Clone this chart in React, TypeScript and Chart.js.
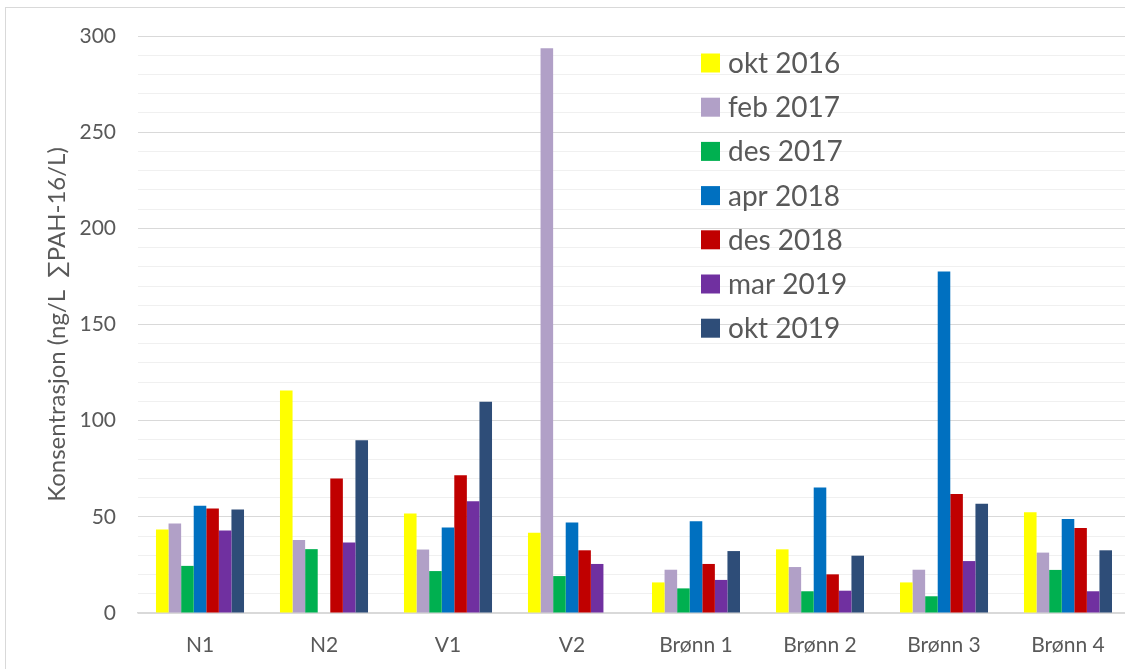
import React, { useEffect, useRef } from "react";
import { Chart, registerables } from "chart.js";

Chart.register(...registerables);

const categories = ["N1", "N2", "V1", "V2", "Brønn 1", "Brønn 2", "Brønn 3", "Brønn 4"];
const seriesNames = ["okt 2016", "feb 2017", "des 2017", "apr 2018", "des 2018", "mar 2019", "okt 2019"];
const okt2016 = [43.4, 115.7, 51.7, 41.7, 15.9, 33.1, 15.9, 52.4];
const feb2017 = [46.5, 38.0, 33.0, 293.6, 22.5, 23.9, 22.5, 31.4];
const des2017 = [24.5, 33.2, 21.8, 19.2, 12.8, 11.3, 8.7, 22.4];
const apr2018 = [55.7, null, 44.5, 47.1, 47.7, 65.3, 177.5, 48.9];
const des2018 = [54.3, 69.9, 71.6, 32.6, 25.5, 20.1, 61.9, 44.2];
const mar2019 = [42.9, 36.7, 58.1, 25.5, 17.2, 11.6, 27.0, 11.3];
const okt2019 = [53.8, 89.8, 109.9, null, 32.2, 29.8, 56.8, 32.6];
const seriesColors = ["#FFFF00", "#B1A0C7", "#00B050", "#0070C0", "#C00000", "#7030A0", "#2E4D78"];
const yTitle = "Konsentrasjon (ng/L  \u2211PAH-16/L)";

const FONT = "Lato, 'Open Sans', sans-serif";
const TEXT = "#595959";

const legendPlugin = {
  id: "floatLegend",
  afterDraw(chart: any) {
    const ctx = chart.ctx;
    ctx.save();
    ctx.font = `28px ${FONT}`;
    ctx.textBaseline = "middle";
    ctx.textAlign = "left";
    chart.data.datasets.forEach((ds: any, i: number) => {
      const cy = 63 + i * 44.2;
      ctx.fillStyle = ds.backgroundColor;
      ctx.fillRect(701, cy - 9.5, 19, 19);
      ctx.fillStyle = TEXT;
      ctx.fillText(ds.label, 728, cy + 1);
    });
    ctx.restore();
  },
};

export default function App() {
  const ref = useRef<HTMLCanvasElement | null>(null);
  useEffect(() => {
    if (!ref.current) return;
    const all = [okt2016, feb2017, des2017, apr2018, des2018, mar2019, okt2019];
    const chart = new Chart(ref.current, {
      type: "bar",
      data: {
        labels: categories,
        datasets: all.map((d, i) => ({
          label: seriesNames[i],
          data: d,
          backgroundColor: seriesColors[i],
          borderWidth: 0,
          categoryPercentage: 0.71,
          barPercentage: 1.0,
        })),
      },
      options: {
        animation: false,
        responsive: false,
        maintainAspectRatio: false,
        layout: { padding: { left: 0, right: 5, top: 36, bottom: 0 } },
        plugins: {
          legend: { display: false },
          tooltip: { enabled: false },
        },
        scales: {
          x: {
            grid: { display: false, drawTicks: false },
            border: { display: true, color: "#d9d9d9", width: 1.5 },
            ticks: { color: TEXT, font: { family: FONT, size: 21 }, padding: 20, autoSkip: false, maxRotation: 0 },
            afterFit: (s: any) => { s.height = 56; },
          },
          y: {
            min: 0,
            max: 300,
            grid: {
              drawTicks: false,
              color: (c: any) => (c.tick && c.tick.value % 50 === 0 ? "#d9d9d9" : "#f0f0f0"),
              lineWidth: 1,
            },
            border: { display: false },
            ticks: {
              stepSize: 10,
              autoSkip: false,
              color: TEXT,
              font: { family: FONT, size: 21 },
              padding: 22,
              callback: (v: any) => (Number(v) % 50 === 0 ? String(v) : ""),
            },
            title: {
              display: true,
              text: yTitle,
              color: TEXT,
              font: { family: FONT, size: 24 },
              padding: { top: 43, bottom: 0 },
            },
            afterFit: (s: any) => { s.width = 138; },
          },
        },
      },
      plugins: [legendPlugin],
    });
    return () => chart.destroy();
  }, []);
  return (
    <div style={{ position: "fixed", left: 0, top: 0, width: 1125, height: 669, overflow: "hidden", background: "#fff" }}>
      <div style={{ position: "absolute", left: 5, top: 7, width: 1200, height: 800, border: "1px solid #d9d9d9", boxSizing: "border-box" }} />
      <canvas ref={ref} width={1135} height={669} style={{ position: "absolute", left: 0, top: 0, width: 1135, height: 669 }} />
    </div>
  );
}
